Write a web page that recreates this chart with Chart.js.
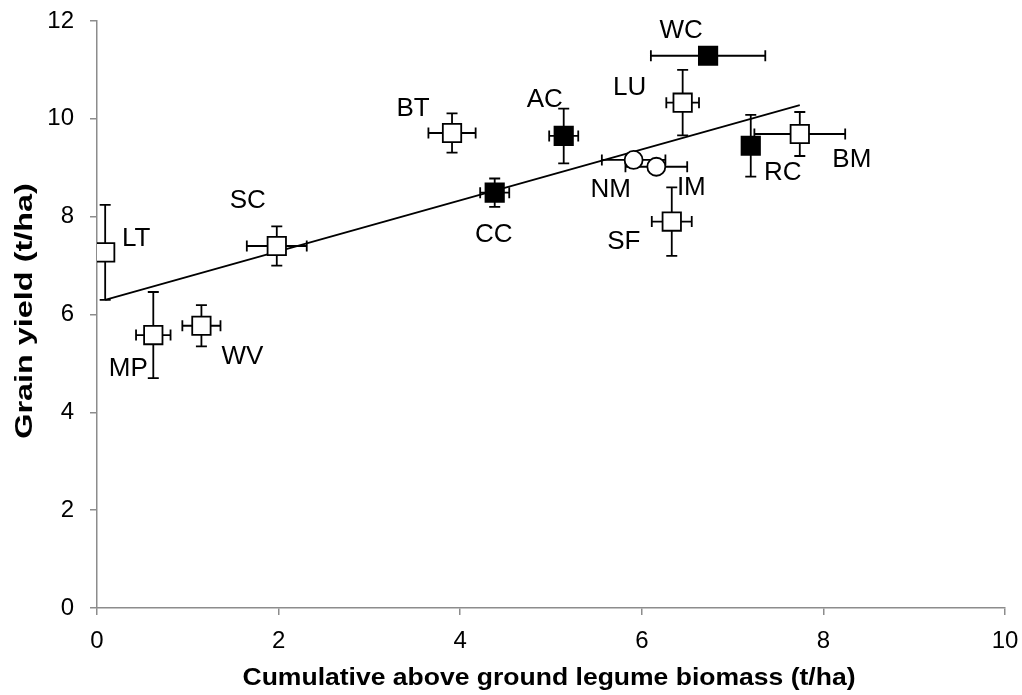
<!DOCTYPE html>
<html>
<head>
<meta charset="utf-8">
<script src="https://cdn.jsdelivr.net/npm/chart.js@4.4.1/dist/chart.umd.min.js"></script>
<style>
  html, body { margin: 0; padding: 0; background: #ffffff; }
  #wrap { width: 1022px; height: 695px; }
</style>
</head>
<body>
<div id="wrap"><canvas id="c" width="1022" height="695"></canvas></div>
<script>
// ---- data ----
const treatments = ['LT', 'SC', 'MP', 'WV', 'BT', 'AC', 'CC', 'WC', 'LU', 'RC', 'BM', 'NM', 'IM', 'SF'];
const biomass    = [0.09, 1.98, 0.62, 1.15, 3.91, 5.14, 4.38, 6.73, 6.45, 7.20, 7.74, 5.91, 6.16, 6.33];
const grainYield = [7.27, 7.40, 5.58, 5.77, 9.71, 9.65, 8.49, 11.29, 10.33, 9.45, 9.69, 9.16, 9.02, 7.90];
const biomassErr = [0.00, 0.33, 0.19, 0.21, 0.26, 0.16, 0.16, 0.63, 0.18, 0.06, 0.50, 0.35, 0.34, 0.22];
const yieldErr   = [0.97, 0.40, 0.88, 0.42, 0.40, 0.56, 0.29, 0.05, 0.67, 0.63, 0.45, 0.05, 0.05, 0.70];
const markerType = ['open', 'open', 'open', 'open', 'open', 'filled', 'filled', 'filled', 'open', 'filled', 'open', 'circle', 'circle', 'open'];
const trendX = [0.09, 7.74];
const trendY = [6.30, 10.28];
const xTicks = [0, 2, 4, 6, 8, 10];
const yTicks = [0, 2, 4, 6, 8, 10, 12];
const xTitle = 'Cumulative above ground legume biomass (t/ha)';
const yTitle = 'Grain yield (t/ha)';

// label placement (pixel offsets from the marker centre)
const labelOffsets = {
  LT: [31, -16], SC: [-29, -47], MP: [-25, 32], WV: [41, 29], BT: [-39, -26],
  AC: [-19, -38], CC: [-1, 40], WC: [-27, -27], LU: [-53, -17], RC: [32, 25],
  BM: [52, 24], NM: [-23, 28], IM: [35, 19], SF: [-48, 18]
};

const FONT = "'Liberation Sans', Arial, sans-serif";
const AXIS_GREY = '#8c8c8c';

const points = treatments.map((t, i) => ({ x: biomass[i], y: grainYield[i] }));
const trendPoints = trendX.map((x, i) => ({ x: x, y: trendY[i] }));

const errorBarPlugin = {
  id: 'errorBars',
  beforeDatasetsDraw(chart) {
    const { ctx, scales: { x, y } } = chart;
    const cap = 5.5;
    ctx.save();
    ctx.strokeStyle = '#000';
    ctx.lineWidth = 1.8;
    treatments.forEach((t, i) => {
      const px = x.getPixelForValue(biomass[i]);
      const py = y.getPixelForValue(grainYield[i]);
      if (biomassErr[i] > 0) {
        const x1 = x.getPixelForValue(biomass[i] - biomassErr[i]);
        const x2 = x.getPixelForValue(biomass[i] + biomassErr[i]);
        ctx.beginPath();
        ctx.moveTo(x1, py); ctx.lineTo(x2, py);
        ctx.moveTo(x1, py - cap); ctx.lineTo(x1, py + cap);
        ctx.moveTo(x2, py - cap); ctx.lineTo(x2, py + cap);
        ctx.stroke();
      }
      if (yieldErr[i] > 0) {
        const y1 = y.getPixelForValue(grainYield[i] - yieldErr[i]);
        const y2 = y.getPixelForValue(grainYield[i] + yieldErr[i]);
        ctx.beginPath();
        ctx.moveTo(px, y1); ctx.lineTo(px, y2);
        ctx.moveTo(px - cap, y1); ctx.lineTo(px + cap, y1);
        ctx.moveTo(px - cap, y2); ctx.lineTo(px + cap, y2);
        ctx.stroke();
      }
    });
    ctx.restore();
  }
};

const labelPlugin = {
  id: 'pointLabels',
  afterDatasetsDraw(chart) {
    const { ctx, scales: { x, y } } = chart;
    ctx.save();
    ctx.fillStyle = '#000';
    ctx.font = '26px ' + FONT;
    ctx.textAlign = 'center';
    ctx.textBaseline = 'alphabetic';
    treatments.forEach((t, i) => {
      const px = x.getPixelForValue(biomass[i]);
      const py = y.getPixelForValue(grainYield[i]);
      const off = labelOffsets[t];
      ctx.fillText(t, px + off[0], py + off[1] + 9.3);
    });
    ctx.restore();
  }
};

// axis titles (stretched horizontally like the reference's text)
const axisTitlePlugin = {
  id: 'axisTitles',
  afterDraw(chart) {
    const { ctx, chartArea } = chart;
    ctx.save();
    ctx.fillStyle = '#000';
    ctx.font = 'bold 24px ' + FONT;
    ctx.textAlign = 'center';
    ctx.textBaseline = 'alphabetic';
    ctx.save();
    ctx.translate((chartArea.left + chartArea.right) / 2 - 2, 676);
    ctx.scale(1.105, 1);
    ctx.fillText(xTitle, 0, 8.6);
    ctx.restore();
    ctx.save();
    ctx.translate(23, 311);
    ctx.rotate(-Math.PI / 2);
    ctx.scale(1.35, 1);
    ctx.fillText(yTitle, 0, 8.6);
    ctx.restore();
    ctx.restore();
  }
};

new Chart(document.getElementById('c'), {
  type: 'scatter',
  data: {
    datasets: [
      {
        label: 'Treatments',
        data: points,
        order: 0,
        pointStyle: markerType.map(m => m === 'circle' ? 'circle' : 'rect'),
        pointRadius: markerType.map(m => m === 'circle' ? 9 : 13),
        pointHoverRadius: markerType.map(m => m === 'circle' ? 9 : 13),
        backgroundColor: markerType.map(m => m === 'filled' ? '#000' : '#fff'),
        borderColor: '#000',
        borderWidth: 1.8
      },
      {
        type: 'line',
        label: 'Linear trend',
        data: trendPoints,
        order: 1,
        borderColor: '#000',
        borderWidth: 1.8,
        pointRadius: 0,
        fill: false,
        tension: 0
      }
    ]
  },
  plugins: [errorBarPlugin, labelPlugin, axisTitlePlugin],
  options: {
    responsive: false,
    animation: false,
    devicePixelRatio: 1,
    layout: { padding: { top: 21, right: 17, left: 0, bottom: 0 } },
    plugins: {
      legend: { display: false },
      tooltip: { enabled: false }
    },
    scales: {
      x: {
        type: 'linear',
        min: 0, max: 10,
        afterBuildTicks: s => { s.ticks = xTicks.map(v => ({ value: v })); },
        afterFit: s => { s.height = 87; s.paddingLeft = 0; s.paddingRight = 0; },
        grid: { display: true, drawOnChartArea: false, drawTicks: true, tickLength: 7, color: AXIS_GREY, lineWidth: 1.5 },
        border: { display: true, color: AXIS_GREY, width: 1.5 },
        ticks: { color: '#000', font: { family: FONT, size: 24 }, padding: 12, maxRotation: 0 },
        title: { display: false, text: xTitle }
      },
      y: {
        type: 'linear',
        min: 0, max: 12,
        afterBuildTicks: s => { s.ticks = yTicks.map(v => ({ value: v })); },
        afterFit: s => { s.width = 97; s.paddingTop = 0; s.paddingBottom = 0; },
        grid: { display: true, drawOnChartArea: false, drawTicks: true, tickLength: 7, color: AXIS_GREY, lineWidth: 1.5 },
        border: { display: true, color: AXIS_GREY, width: 1.5 },
        ticks: { color: '#000', font: { family: FONT, size: 24 }, padding: 16 },
        title: { display: false, text: yTitle }
      }
    }
  }
});
</script>
</body>
</html>
